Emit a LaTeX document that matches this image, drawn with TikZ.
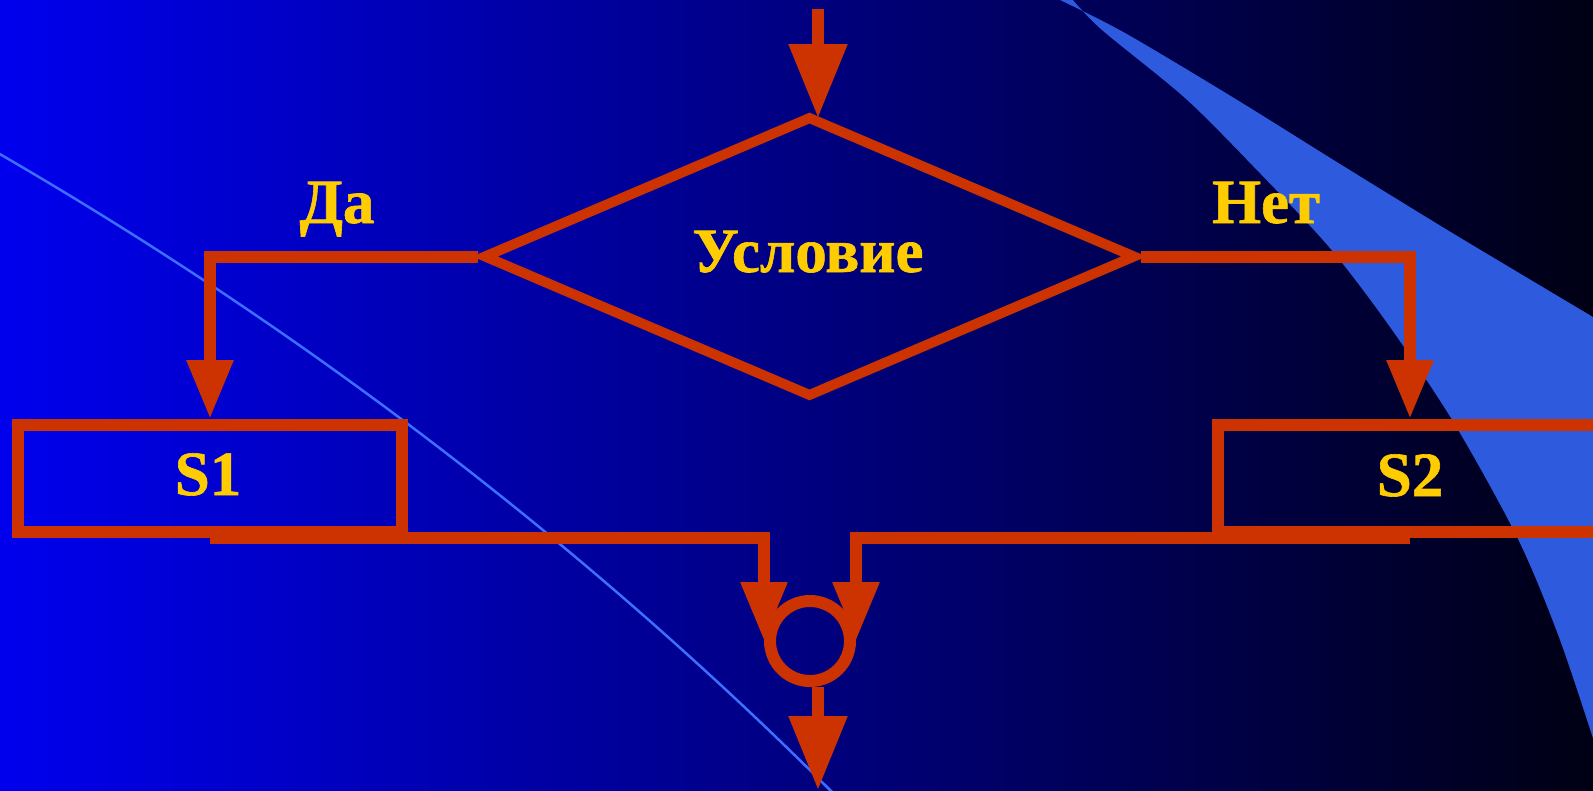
\documentclass[tikz,border=0pt]{standalone}
\usepackage{fontspec}
\setmainfont{Liberation Serif}
\newfontfamily\lblfont{Liberation Serif Bold}[FakeBold=1]
\usetikzlibrary{shapes.geometric,arrows.meta}
\definecolor{flowred}{RGB}{204,51,0}
\definecolor{txtyellow}{RGB}{255,204,0}
\definecolor{bgleft}{RGB}{0,0,238}
\definecolor{bgright}{RGB}{0,0,20}
\definecolor{bandblue}{RGB}{46,90,222}
\definecolor{curveblue}{RGB}{60,110,255}
\begin{document}
\begin{tikzpicture}[x=1pt,y=-1pt,
  flow/.style={draw=flowred,line width=12pt},
  bigtip/.style={-{Triangle[width=56pt,length=74pt]}},
  smalltip/.style={-{Triangle[width=44pt,length=59pt]}},
  condbox/.style={diamond,draw=flowred,line width=10pt,minimum width=653pt,minimum height=281pt,inner sep=0pt},
  actbox/.style={rectangle,draw=flowred,line width=12pt,minimum width=384pt,minimum height=107pt,inner sep=0pt},
  mergebox/.style={circle,draw=flowred,line width=12pt,minimum size=80pt,inner sep=0pt},
  lbl/.style={font=\lblfont\fontsize{63}{70}\selectfont,text=txtyellow,inner sep=0pt,anchor=base}]
\useasboundingbox (0,0) rectangle (1593,790);
\shade[left color=bgleft,right color=bgright] (0,0) rectangle (1593,790);
% light band
\fill[bandblue] plot[smooth] coordinates {(1072,-1) (1102,30) (1185,98) (1253,166) (1329,247) (1390,327) (1454,423) (1518,539) (1560,640) (1600,760)}
  -- (1600,321) -- plot[smooth] coordinates {(1593,317) (1454,234) (1340,164) (1234,98) (1125,33) (1058,-1)} -- cycle;
% thin curve
\draw[curveblue,line width=2.5pt] (-2,153) .. controls (300,328) and (580,540) .. (832,792);
% nodes
\node[condbox] (cond) at (809.5,256.5) {};
\node[actbox] (s1) at (210,478.5) {};
\node[actbox] (s2) at (1410,478.5) {};
\node[mergebox] (circ) at (810,641) {};
% labels
\node[lbl] (tcond) at (808,272) {Условие};
\node[lbl] (tda) at (337,223) {Да};
\node[lbl] (tnet) at (1266,223) {Нет};
\node[lbl] (ts1) at (208,495) {S1};
\node[lbl] (ts2) at (1410,496) {S2};
% connectors
\coordinate (topin) at (818,9);
\coordinate (out) at (818,790);
\draw[flow,bigtip] (topin) -- ([yshift=-7pt]topin |- cond.north);
\draw[flow,smalltip] (cond.west) -| (s1.north);
\draw[flow,smalltip] (cond.east) -| (s2.north);
\draw[flow,smalltip] (s1.south) -| (circ.west);
\draw[flow,smalltip] (s2.south) -| (circ.east);
\draw[flow,bigtip] (out |- circ.south) -- (out);
\end{tikzpicture}
\end{document}
